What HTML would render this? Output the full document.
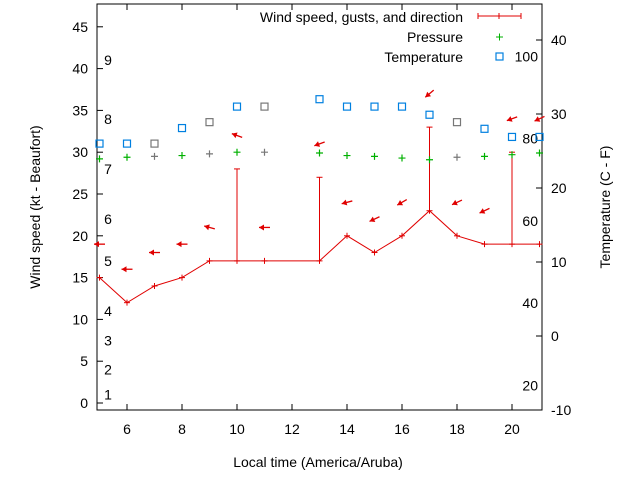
<!DOCTYPE html>
<html><head><meta charset="utf-8"><style>
body{margin:0;background:#fff}
svg{font-family:"Liberation Sans",sans-serif;font-size:14px}
</style></head><body>
<svg id="c" width="640" height="480"></svg>
<script>
const hours=[5,6,7,8,9,10,11,13,14,15,16,17,18,19,20,21];
const windSpeed=[15,12,14,15,17,17,17,17,20,18,20,23,20,19,19,19];
const gustHours=[10,13,17,20];
const gustSpeed=[28,27,33,30];
const arrowLevel=[19,16,18,19,21,32,21,31,24,22,24,37,24,23,34,34];
const windDir=[90,90,90,90,105,110,90,70,75,65,60,50,65,65,70,65];
const pressure=[29.2,29.4,29.5,29.6,29.8,30,30,29.9,29.6,29.5,29.3,29.1,29.4,29.5,29.7,29.9];
const tempC=[26,26,26,28.1,28.9,31,31,32,31,31,31,29.9,28.9,28,26.9,26.9];
const grayIdx=[2,4,6,12];
const leftTicks=[0,5,10,15,20,25,30,35,40,45];
const rightTicks=[-10,0,10,20,30,40];
const xTicks=[6,8,10,12,14,16,18,20];
const beaufort=[[1,1],[2,4],[3,7.5],[4,11],[5,17],[6,22],[7,28],[8,34],[9,41]];
const fahr=[20,40,60,80,100];

const L=97,R=542,T=4,B=410;
const X=h=>99.5+(h-5)*27.5;
const Y=v=>403-v*8.36;
const YR=c=>336-c*7.4;
const svg=document.getElementById('c');
const NS='http://www.w3.org/2000/svg';
function el(t,a,p){const e=document.createElementNS(NS,t);for(const k in a)e.setAttribute(k,a[k]);(p||svg).appendChild(e);return e;}
function txt(x,y,s,anchor,name){const e=el('text',{x:x,y:y,'text-anchor':anchor||'middle',fill:'#000'});e.textContent=s;

return e;}

const frame=el('rect',{x:L,y:T,width:R-L,height:B-T,fill:'none',stroke:'#000'});


leftTicks.forEach(v=>{el('line',{x1:L,x2:L+6,y1:Y(v),y2:Y(v),stroke:'#000'});txt(L-9,Y(v)+5,String(v),'end','left-tick-label');});
rightTicks.forEach(v=>{el('line',{x1:R-6,x2:R,y1:YR(v),y2:YR(v),stroke:'#000'});txt(R+9,YR(v)+5,String(v),'start','right-tick-label');});
xTicks.forEach(v=>{el('line',{x1:X(v),x2:X(v),y1:B,y2:B-6,stroke:'#000'});el('line',{x1:X(v),x2:X(v),y1:T,y2:T+6,stroke:'#000'});txt(X(v),B+24,String(v),'middle','x-tick-label');});
beaufort.forEach(b=>txt(108,Y(b[1])+5,String(b[0]),'middle','beaufort-label'));
fahr.forEach(f=>txt(538,YR((f-32)/1.8)+5,String(f),'end','fahrenheit-label'));

let d='';hours.forEach((h,i)=>{d+=(i?'L':'M')+X(h)+','+Y(windSpeed[i]);});
const wl=el('path',{d:d,fill:'none',stroke:'#e00000','stroke-width':1});


hours.forEach((h,i)=>{el('line',{x1:X(h)-3,x2:X(h)+3,y1:Y(windSpeed[i]),y2:Y(windSpeed[i]),stroke:'#e00000'});el('line',{x1:X(h),x2:X(h),y1:Y(windSpeed[i])-3,y2:Y(windSpeed[i])+3,stroke:'#e00000'});});
gustHours.forEach((h,i)=>{const j=hours.indexOf(h);
const g=el('line',{x1:X(h),x2:X(h),y1:Y(windSpeed[j]),y2:Y(gustSpeed[i]),stroke:'#e00000'});


el('line',{x1:X(h)-3,x2:X(h)+3,y1:Y(gustSpeed[i]),y2:Y(gustSpeed[i]),stroke:'#e00000'});});
hours.forEach((h,i)=>{const r=windDir[i]*Math.PI/180;const vx=-Math.sin(r),vy=Math.cos(r);
const cx=X(h),cy=Y(arrowLevel[i]);
const headX=cx+vx*5.5,headY=cy+vy*5.5,tailX=cx-vx*5.5,tailY=cy-vy*5.5;
const a=el('line',{x1:tailX,y1:tailY,x2:headX,y2:headY,stroke:'#e00000','stroke-width':1.3});


const px=-vy,py=vx;
el('polygon',{points:`${headX},${headY} ${headX-vx*5+px*3},${headY-vy*5+py*3} ${headX-vx*5-px*3},${headY-vy*5-py*3}`,fill:'#e00000'});});
pressure.forEach((p,i)=>{const c=grayIdx.includes(i)?'#777':'#00b000';const x=X(hours[i]),y=Y(p);
const g=el('path',{d:`M${x-3.5},${y}H${x+3.5}M${x},${y-3.5}V${y+3.5}`,stroke:c,'stroke-width':1.2});

});
tempC.forEach((t,i)=>{const c=grayIdx.includes(i)?'#777':'#0080e0';
const s=el('rect',{x:X(hours[i])-3.5,y:YR(t)-3.5,width:7,height:7,fill:'none',stroke:c,'stroke-width':1.2});

});
txt(463,22,'Wind speed, gusts, and direction','end','legend-wind');
el('path',{d:'M478,16H521M478,13V19M499,13V19M521,13V19',stroke:'#e00000',fill:'none'});
txt(463,42,'Pressure','end','legend-pressure');
el('path',{d:'M496,37H503M499.5,33.5V40.5',stroke:'#00b000'});
txt(463,62,'Temperature','end','legend-temperature');
el('rect',{x:496,y:53,width:7,height:7,fill:'none',stroke:'#0080e0','stroke-width':1.2});
const yt=txt(40,207,'Wind speed (kt - Beaufort)','middle','y-axis-title');yt.setAttribute('transform','rotate(-90 40 207)');
const yr=txt(610,207,'Temperature (C - F)','middle','y2-axis-title');yr.setAttribute('transform','rotate(-90 610 207)');
txt(318,467,'Local time (America/Aruba)','middle','x-axis-title');
</script>
</body></html>
